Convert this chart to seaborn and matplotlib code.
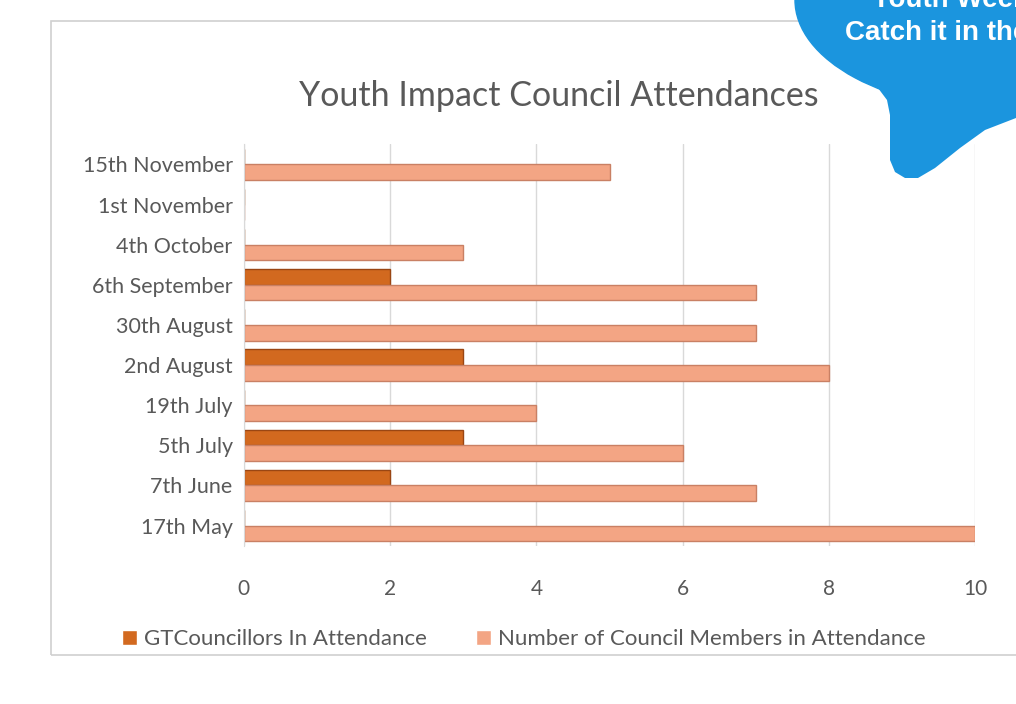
import pandas as pd
import seaborn as sns
import matplotlib.pyplot as plt
from matplotlib.patches import Ellipse, Polygon, Rectangle

# values (top row first)
dates = ['15th November', '1st November', '4th October', '6th September', '30th August',
         '2nd August', '19th July', '5th July', '7th June', '17th May']
gtCouncillors = [0, 0, 0, 2, 0, 3, 0, 3, 2, 0]
councilMembers = [5, 0, 3, 7, 7, 8, 4, 6, 7, 10]
seriesNames = ['GTCouncillors In Attendance', 'Number of Council Members in Attendance']
xTicks = [0, 2, 4, 6, 8, 10]

data = pd.DataFrame({'date': dates * 2,
                     'value': gtCouncillors + councilMembers,
                     'series': [seriesNames[0]] * len(dates) + [seriesNames[1]] * len(dates)})

sns.set_style('white')
plt.rcParams['font.family'] = ['Lato', 'DejaVu Sans']
textGrey = '#595959'

fig = plt.figure(figsize=(10.16, 7.04), dpi=100)

# chart area border
fig.patches.append(Rectangle((0.05, 0.07), 1.0, 0.9, transform=fig.transFigure,
                             fill=False, edgecolor='#D0D0D0', lw=1.2, zorder=0))

ax = fig.add_axes([0.24, 0.225, 0.72, 0.57])
sns.barplot(data=data, x='value', y='date', hue='series', order=dates, hue_order=seriesNames,
            palette=['#D2691F', '#F3A584'], saturation=1, width=0.78, linewidth=1, ax=ax)

# darker edge like the excel bars
edgeColors = ['#9A4613', '#C98064']
for container, col in zip(ax.containers, edgeColors):
    for bar in container:
        bar.set_edgecolor(col)

ax.set_xlim(0, 10)
ax.set_xticks(xTicks)
ax.xaxis.grid(True, color='#D9D9D9', lw=1)
ax.set_axisbelow(True)
for side in ['top', 'right', 'bottom']:
    ax.spines[side].set_visible(False)
ax.spines['left'].set_color('#D9D9D9')
ax.set_xlabel('')
ax.set_ylabel('')
ax.tick_params(axis='x', pad=24, labelsize=15, colors=textGrey, length=0)
ax.tick_params(axis='y', pad=8, labelsize=15.5, colors=textGrey, length=0)

fig.text(0.55, 0.85, 'Youth Impact Council Attendances', fontsize=24.5, color=textGrey, ha='center')

ax.legend(loc='center left', bbox_to_anchor=(0.1, 0.092), bbox_transform=fig.transFigure,
          ncol=2, frameon=False, handlelength=0.7, handleheight=0.7, handletextpad=0.3,
          columnspacing=2.2, fontsize=16, labelcolor=textGrey)

# blue speech bubble cut off in the corner, drawn in pixel coordinates
deco = fig.add_axes([0, 0, 1, 1], zorder=5)
deco.set_xlim(0, 1016)
deco.set_ylim(704, 0)
deco.axis('off')
blue = '#1B95DE'
deco.add_patch(Ellipse((1000, 0), 410, 220, color=blue))
deco.add_patch(Polygon([(860, 75), (878, 88), (887, 100), (890, 115), (890, 160), (895, 172),
                        (905, 178), (918, 178), (935, 168), (960, 148), (985, 130), (1016, 118),
                        (1016, 60), (950, 60)],
                       closed=True, color=blue, lw=0))
deco.text(872, 0, 'Youth Week', color='white', fontsize=20, fontweight='bold',
          family='Liberation Sans', va='center')
deco.text(845, 33, 'Catch it in the', color='white', fontsize=20, fontweight='bold',
          family='Liberation Sans', va='center')

fig.savefig('out.png', dpi=100)
